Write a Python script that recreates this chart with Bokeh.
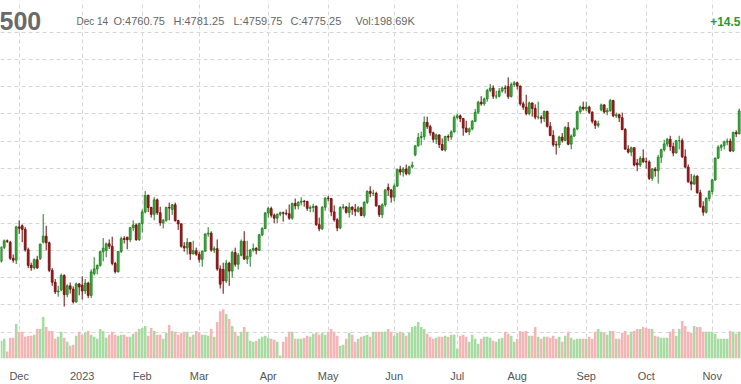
from bokeh.plotting import figure
from bokeh.models import Range1d, FixedTicker, Label, ColumnDataSource, Grid
from bokeh.embed import file_html
from bokeh.resources import INLINE

# ---- data (bar index = trading day, 0 = 22 Nov 2022 ... 246 = 14 Nov 2023) ----
opens = [
    3960, 4011, 4035, 4030, 3971, 3964, 4086, 4090, 4077, 4002,
    3945, 3936, 3966, 3970, 4030, 4052, 4028, 3927, 3883, 3848,
    3855, 3908, 3838, 3870, 3858, 3811, 3877, 3872, 3851, 3880,
    3835, 3915, 3932, 3945, 3995, 4000, 4024, 4015, 3952, 3922,
    3996, 4043, 4048, 4039, 4083, 4093, 4039, 4099, 4141, 4201,
    4157, 4132, 4185, 4138, 4101, 4110, 4157, 4150, 4167, 4109,
    4097, 4015, 4009, 4029, 3987, 3999, 3986, 3967, 3997, 4060,
    4063, 4001, 4006, 3932, 3930, 3888, 3953, 3924, 3992, 3949,
    3982, 4033, 3968, 3978, 4001, 4007, 4000, 4057, 4080, 4137,
    4153, 4129, 4118, 4132, 4138, 4136, 4134, 4118, 4172, 4163,
    4176, 4180, 4179, 4154, 4157, 4161, 4094, 4079, 4158, 4191,
    4190, 4141, 4112, 4082, 4157, 4159, 4139, 4158, 4150, 4143,
    4156, 4128, 4176, 4216, 4209, 4209, 4163, 4131, 4167, 4230,
    4221, 4195, 4236, 4296, 4287, 4298, 4281, 4306, 4350, 4383,
    4413, 4417, 4469, 4453, 4431, 4407, 4423, 4388, 4368, 4417,
    4415, 4434, 4487, 4493, 4483, 4448, 4434, 4445, 4473, 4506,
    4543, 4537, 4555, 4586, 4595, 4565, 4565, 4584, 4595, 4600,
    4564, 4608, 4614, 4602, 4537, 4525, 4501, 4540, 4520, 4488,
    4488, 4483, 4509, 4455, 4421, 4387, 4386, 4415, 4403, 4450,
    4389, 4419, 4445, 4508, 4525, 4518, 4525, 4506, 4473, 4458,
    4515, 4533, 4507, 4512, 4549, 4493, 4497, 4486, 4443, 4371,
    4360, 4376, 4320, 4313, 4337, 4325, 4324, 4264, 4298, 4292,
    4341, 4369, 4390, 4407, 4380, 4357, 4402, 4402, 4343, 4305,
    4251, 4243, 4272, 4211, 4161, 4140, 4190, 4216, 4258, 4338,
    4378, 4384, 4397, 4400, 4364, 4432, 4427,
]
highs = [
    4015, 4040, 4040, 4035, 3985, 4090, 4110, 4095, 4085, 4010,
    3955, 3970, 3980, 4025, 4133, 4090, 4032, 3935, 3895, 3870,
    3915, 3912, 3876, 3882, 3868, 3882, 3880, 3905, 3895, 3885,
    3930, 3975, 3948, 3998, 4045, 4028, 4040, 4050, 3958, 3998,
    4050, 4052, 4050, 4085, 4110, 4098, 4100, 4150, 4217, 4205,
    4160, 4195, 4190, 4160, 4115, 4160, 4175, 4170, 4175, 4112,
    4100, 4030, 4045, 4030, 4035, 4010, 3995, 4000, 4062, 4085,
    4070, 4015, 4040, 3945, 3955, 3965, 3958, 3998, 4010, 3990,
    4040, 4070, 4035, 4005, 4025, 4012, 4060, 4085, 4140, 4160,
    4160, 4135, 4135, 4142, 4142, 4150, 4168, 4175, 4190, 4180,
    4195, 4185, 4182, 4165, 4170, 4165, 4120, 4162, 4195, 4200,
    4192, 4165, 4118, 4162, 4170, 4162, 4175, 4162, 4170, 4162,
    4160, 4180, 4220, 4235, 4222, 4215, 4165, 4172, 4225, 4245,
    4225, 4245, 4300, 4310, 4305, 4315, 4310, 4325, 4385, 4430,
    4435, 4491, 4490, 4460, 4435, 4428, 4425, 4410, 4420, 4425,
    4440, 4495, 4500, 4498, 4485, 4475, 4450, 4478, 4518, 4548,
    4565, 4560, 4592, 4610, 4605, 4585, 4595, 4600, 4605, 4634,
    4615, 4620, 4618, 4604, 4545, 4570, 4545, 4542, 4535, 4545,
    4495, 4512, 4512, 4470, 4440, 4400, 4420, 4430, 4455, 4470,
    4425, 4450, 4512, 4530, 4545, 4545, 4530, 4510, 4478, 4475,
    4538, 4536, 4522, 4555, 4552, 4505, 4500, 4505, 4448, 4385,
    4380, 4378, 4335, 4345, 4370, 4340, 4330, 4302, 4305, 4350,
    4372, 4405, 4412, 4420, 4395, 4405, 4420, 4410, 4370, 4315,
    4280, 4278, 4275, 4222, 4180, 4195, 4220, 4262, 4340, 4385,
    4390, 4402, 4410, 4410, 4435, 4440, 4520,
]
lows = [
    3955, 4005, 4027, 3965, 3955, 3950, 4060, 4030, 3995, 3935,
    3925, 3930, 3932, 3965, 4025, 4000, 3920, 3870, 3840, 3830,
    3850, 3794, 3828, 3842, 3805, 3808, 3835, 3820, 3840, 3825,
    3825, 3908, 3912, 3940, 3960, 3975, 4005, 3945, 3915, 3918,
    3990, 4025, 4004, 4030, 4070, 4035, 4035, 4065, 4135, 4140,
    4120, 4110, 4130, 4090, 4080, 4105, 4110, 4130, 4105, 4075,
    4010, 3995, 3985, 3965, 3985, 3980, 3955, 3940, 3995, 4050,
    3995, 3990, 3925, 3860, 3841, 3880, 3870, 3900, 3940, 3930,
    3978, 3965, 3950, 3940, 3995, 3985, 3998, 4052, 4078, 4120,
    4120, 4100, 4100, 4125, 4105, 4128, 4112, 4112, 4150, 4150,
    4165, 4160, 4145, 4140, 4140, 4090, 4070, 4075, 4145, 4180,
    4125, 4105, 4070, 4078, 4150, 4135, 4120, 4130, 4125, 4138,
    4125, 4120, 4170, 4195, 4200, 4160, 4122, 4118, 4160, 4200,
    4175, 4180, 4232, 4275, 4270, 4275, 4275, 4300, 4345, 4380,
    4385, 4405, 4445, 4420, 4395, 4390, 4375, 4365, 4362, 4400,
    4405, 4432, 4480, 4470, 4420, 4430, 4422, 4440, 4470, 4500,
    4530, 4530, 4545, 4580, 4555, 4555, 4560, 4578, 4575, 4555,
    4560, 4600, 4590, 4530, 4515, 4495, 4495, 4490, 4480, 4480,
    4465, 4470, 4450, 4418, 4380, 4351, 4375, 4395, 4400, 4385,
    4370, 4415, 4440, 4500, 4512, 4510, 4500, 4465, 4445, 4450,
    4510, 4502, 4495, 4508, 4488, 4485, 4470, 4440, 4368, 4355,
    4345, 4308, 4290, 4305, 4320, 4300, 4258, 4255, 4270, 4245,
    4320, 4362, 4380, 4365, 4345, 4355, 4370, 4338, 4300, 4248,
    4220, 4240, 4208, 4155, 4127, 4135, 4180, 4205, 4255, 4335,
    4365, 4370, 4385, 4360, 4360, 4415, 4425,
]
closes = [
    4011, 4035, 4033, 3971, 3964, 4086, 4081, 4077, 4002, 3945,
    3936, 3966, 3936, 4023, 4052, 4028, 3927, 3883, 3848, 3851,
    3908, 3838, 3870, 3858, 3811, 3877, 3866, 3851, 3880, 3835,
    3921, 3932, 3945, 3995, 4008, 4024, 4015, 3952, 3922, 3996,
    4043, 4040, 4039, 4083, 4093, 4039, 4099, 4141, 4201, 4157,
    4132, 4185, 4138, 4101, 4110, 4157, 4155, 4167, 4109, 4097,
    4015, 4009, 4029, 3987, 3999, 3986, 3967, 3997, 4060, 4063,
    4001, 4006, 3932, 3876, 3888, 3953, 3924, 3992, 3949, 3982,
    4033, 3968, 3978, 4001, 4007, 4000, 4057, 4080, 4137, 4153,
    4129, 4118, 4132, 4138, 4136, 4134, 4118, 4172, 4163, 4176,
    4180, 4179, 4154, 4157, 4161, 4094, 4079, 4158, 4191, 4190,
    4141, 4112, 4082, 4157, 4159, 4139, 4158, 4150, 4143, 4156,
    4128, 4176, 4216, 4209, 4209, 4163, 4131, 4167, 4221, 4221,
    4195, 4236, 4296, 4287, 4298, 4281, 4306, 4312, 4383, 4413,
    4417, 4469, 4453, 4431, 4407, 4423, 4388, 4368, 4417, 4415,
    4434, 4487, 4493, 4483, 4448, 4434, 4445, 4473, 4506, 4543,
    4537, 4555, 4586, 4595, 4565, 4565, 4584, 4595, 4594, 4564,
    4608, 4614, 4602, 4537, 4525, 4501, 4540, 4520, 4488, 4488,
    4483, 4509, 4455, 4421, 4387, 4386, 4415, 4403, 4450, 4389,
    4419, 4445, 4508, 4525, 4518, 4525, 4506, 4473, 4458, 4464,
    4533, 4507, 4512, 4549, 4493, 4497, 4486, 4443, 4371, 4360,
    4376, 4313, 4313, 4337, 4325, 4324, 4264, 4298, 4292, 4341,
    4369, 4390, 4407, 4380, 4357, 4402, 4402, 4343, 4305, 4251,
    4243, 4272, 4211, 4161, 4140, 4190, 4216, 4258, 4338, 4378,
    4384, 4397, 4400, 4364, 4432, 4427, 4511,
]
volumes_k = [
    900, 1000, 350, 1050, 1050, 1750, 1350, 1350, 1100, 1150,
    1150, 1200, 1500, 1500, 2100, 1600, 1400, 1400, 1000, 1100,
    1350, 1050, 850, 650, 700, 1150, 1350, 1200, 1300, 1400,
    1200, 1100, 1000, 1500, 1400, 1050, 1200, 1350, 1200, 1150,
    1200, 1200, 1100, 1100, 1250, 1350, 1500, 1550, 1650, 1150,
    1550, 1400, 1200, 1200, 1000, 1300, 1700, 1400, 1350, 1200,
    1300, 1350, 1350, 1100, 1200, 1400, 1300, 1200, 1200, 1150,
    1500, 1100, 1850, 2400, 2500, 2250, 2000, 1650, 1350, 1150,
    1350, 1600, 1350, 900, 850, 900, 1000, 1100, 1150, 1050,
    1000, 950, 850, 150, 850, 1100, 1350, 1350, 1000, 1000,
    1000, 1050, 1150, 1100, 1250, 1300, 1200, 1300, 1200, 1350,
    1500, 1350, 1150, 650, 700, 1000, 1300, 1200, 850, 1000,
    1100, 1150, 1200, 1100, 1350, 1350, 1350, 1350, 1350, 1500,
    1350, 1150, 1300, 1350, 1300, 1150, 1300, 1600, 1650, 1850,
    1600, 1500, 1250, 1100, 1000, 1050, 1100, 1100, 1150, 1100,
    1200, 1200, 500, 1150, 1200, 1100, 850, 1200, 1000, 750,
    1000, 1100, 1100, 1050, 900, 850, 1000, 1050, 1350, 1250,
    1150, 850, 1000, 1400, 1350, 1400, 1150, 1150, 1600, 1100,
    1000, 1100, 1100, 1050, 1150, 1000, 1100, 850, 1150, 1350,
    1050, 950, 1000, 1000, 1000, 1000, 1100, 1000, 1350, 1500,
    1350, 1300, 1200, 1400, 1400, 1000, 1000, 1300, 1400, 1200,
    1350, 1400, 1500, 1500, 1600, 1550, 1500, 1500, 1150, 1100,
    1050, 1050, 1050, 1350, 1500, 1150, 1500, 1900, 1650, 1350,
    1300, 1650, 1600, 1600, 1350, 1350, 1350, 1350, 1250, 1000,
    1000, 1000, 1000, 1400, 1350, 1250, 1350,
]
month_index = [6, 27, 47, 66, 89, 109, 131, 152, 172, 195, 215, 237]
month_labels = ["Dec", "2023", "Feb", "Mar", "Apr", "May", "Jun", "Jul",
                "Aug", "Sep", "Oct", "Nov"]
price_grid = [3700, 3800, 3900, 4000, 4100, 4200, 4300, 4400, 4500, 4600, 4700, 4800]

# ---- geometry ----
W, H = 741, 384
FRAME_H = 363
X0, X1 = -0.233, 246.767
Y_BOT, Y_TOP = 3603.7, 4915.6
VOL_MAX = 18150

n = len(closes)
idx = list(range(n))
up = [c >= o for o, c in zip(opens, closes)]
src = ColumnDataSource(dict(
    x=idx, o=opens, h=highs, l=lows, c=closes, v=volumes_k,
    top=[max(o, c) for o, c in zip(opens, closes)],
    bot=[min(o, c) for o, c in zip(opens, closes)],
    fill=["#3cb93c" if u else "#b01c1c" for u in up],
    line=["#1d7a1d" if u else "#6a0b0b" for u in up],
    vcol=["#a6dba1" if u else "#f6b5b5" for u in up],
))

p = figure(width=W, height=H, output_backend="svg", toolbar_location=None,
           x_range=Range1d(X0, X1), y_range=Range1d(Y_BOT, Y_TOP),
           y_axis_location=None, min_border_left=0, min_border_right=0,
           min_border_top=0, min_border_bottom=H - FRAME_H,
           background_fill_color="white", border_fill_color="white")
p.outline_line_color = None
p.xgrid.grid_line_color = None
p.ygrid.grid_line_color = None
p.extra_y_ranges = {"vol": Range1d(0, VOL_MAX)}

p.add_layout(Grid(dimension=0, ticker=FixedTicker(ticks=month_index),
                  grid_line_color="#d6d6d6", grid_line_dash="4 3", grid_line_width=1))
p.add_layout(Grid(dimension=1, ticker=FixedTicker(ticks=price_grid),
                  grid_line_color="#d6d6d6", grid_line_dash="4 3", grid_line_width=1))

# volume
p.vbar(x="x", top="v", bottom=0, width=0.85, fill_color="vcol", line_color=None,
       y_range_name="vol", source=src)
# candles
p.segment(x0="x", y0="l", x1="x", y1="h", line_color="line", line_width=1, source=src)
p.vbar(x="x", top="top", bottom="bot", width=0.62, fill_color="fill",
       line_color="line", line_width=0.8, source=src)

# x axis
ax = p.xaxis[0]
ax.ticker = FixedTicker(ticks=month_index)
ax.major_label_overrides = {m: lab for m, lab in zip(month_index, month_labels)}
ax.axis_line_color = None
ax.major_tick_line_color = None
ax.minor_tick_line_color = None
ax.major_label_standoff = 5
ax.major_label_text_font = "Liberation Sans"
ax.major_label_text_font_size = "11px"
ax.major_label_text_color = "#555555"


def px_x(px):
    return X0 + px * (X1 - X0) / W


def px_y(py):
    return Y_TOP - py * (Y_TOP - Y_BOT) / FRAME_H


def add_text(txt, x, y, size, color="#666666", style="normal", align="left"):
    p.add_layout(Label(x=px_x(x), y=px_y(y), text=txt, text_font="Liberation Sans",
                       text_font_size=size, text_color=color, text_font_style=style,
                       text_baseline="alphabetic", text_align=align))


add_text("500", -1, 21, "25px", "#6a6a6a", "bold")
add_text("Dec 14", 76, 21, "10px")
add_text("O:4760.75", 113, 21, "11px")
add_text("H:4781.25", 173, 21, "11px")
add_text("L:4759.75", 233, 21, "11px")
add_text("C:4775.25", 290, 21, "11px")
add_text("Vol:198.69K", 355, 21, "11px")
add_text("+14.5", 740, 21, "12px", "#2a9a2a", "bold", "right")

open("out.html", "w").write(file_html(p, INLINE))
